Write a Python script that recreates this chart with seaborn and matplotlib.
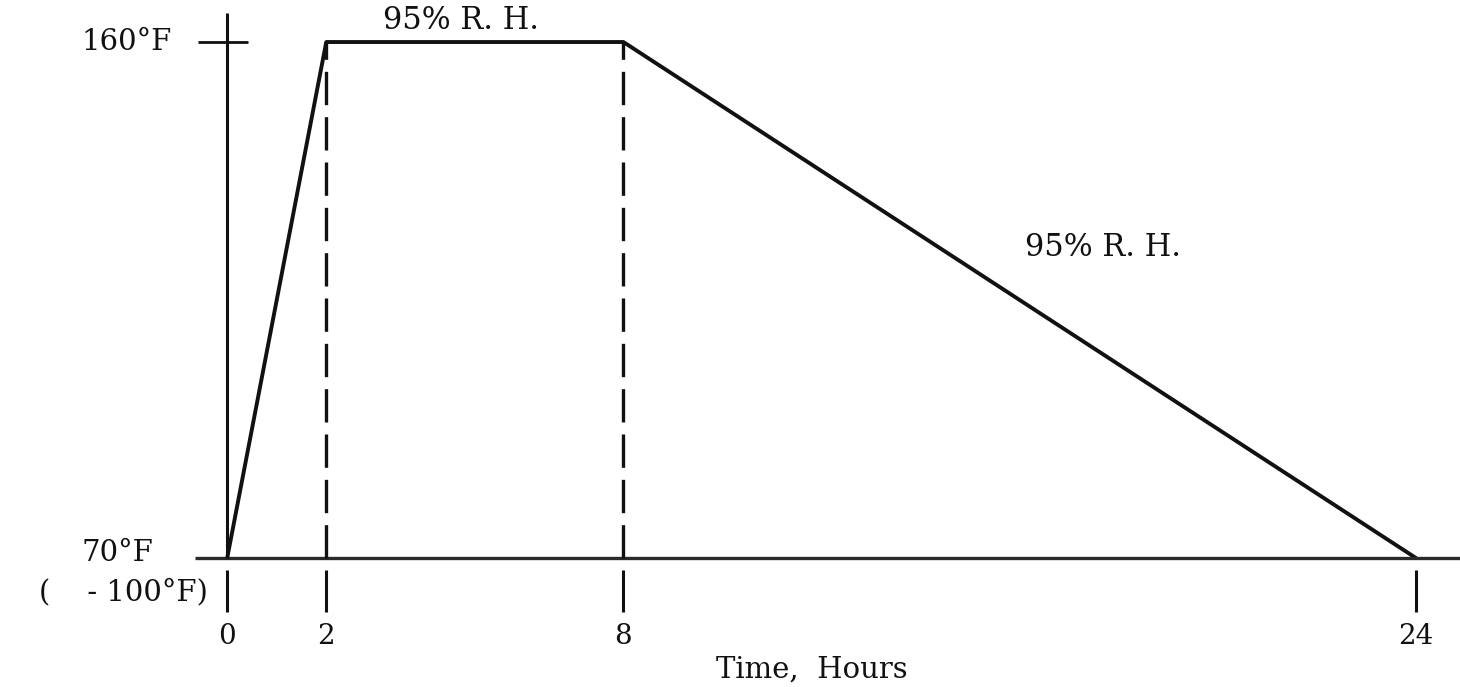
import numpy as np
import pandas as pd
import matplotlib
matplotlib.use('Agg')
import matplotlib.pyplot as plt
import seaborn as sns

# cycle profile
hours = [0, 2, 8, 24]
temp_f = [70, 160, 160, 70]
hold_marks = [2, 8]          # dashed verticals
tick_hours = [0, 2, 8, 24]
tick_labels = ['0', '2', '8', '24']
rh_label = '95% R. H.'

df = pd.DataFrame({'hours': hours, 'temp': temp_f})

sns.set_theme(style='white')
plt.rcParams['font.family'] = ['DejaVu Serif', 'DejaVu Sans']

fig = plt.figure(figsize=(14.6, 6.87), dpi=100)
ax = fig.add_axes([0, 0, 1, 1])
ax.set_xlim(-4.587, 24.890)
ax.set_ylim(47.5, 167.33)
ax.axis('off')

ink = '#111111'
fs = 20

# profile
sns.lineplot(data=df, x='hours', y='temp', ax=ax, color=ink, lw=2.8, legend=False)

# axes drawn by hand like the sketch
lo, hi = min(temp_f), max(temp_f)
ax.hlines(lo, -0.65, 24.9, color='#2a2a2a', lw=2.4)
ax.vlines(0, lo, 165.1, color=ink, lw=2.2)
ax.hlines(hi, -0.59, 0.42, color=ink, lw=2.0)

# dashed hold lines
ax.vlines(hold_marks, lo, hi, color=ink, lw=2.4, linestyles=(0, (10, 3.6)))

# tick stubs below baseline
ax.vlines(tick_hours, 60.6, 67.9, color=ink, lw=2.2)
for h, lab in zip(tick_hours, tick_labels):
    ax.text(h, 56.3, lab, ha='center', va='center', fontsize=fs, color=ink)

# y labels
ax.text(-1.11, hi, '160°F', ha='right', va='center', fontsize=fs + 1, color=ink)
ax.text(-1.49, 70.9, '70°F', ha='right', va='center', fontsize=fs + 1, color=ink)
ax.text(-0.39, 64.1, '(    - 100°F)', ha='right', va='center', fontsize=fs + 1, color=ink)

# humidity notes
ax.text(4.73, 163.8, rh_label, ha='center', va='center', fontsize=fs + 2, color=ink)
ax.text(17.69, 124.2, rh_label, ha='center', va='center', fontsize=fs + 2, color=ink)

ax.text(11.81, 50.6, 'Time,  Hours', ha='center', va='center', fontsize=fs + 1, color=ink)

plt.savefig('out.png', dpi=100)
